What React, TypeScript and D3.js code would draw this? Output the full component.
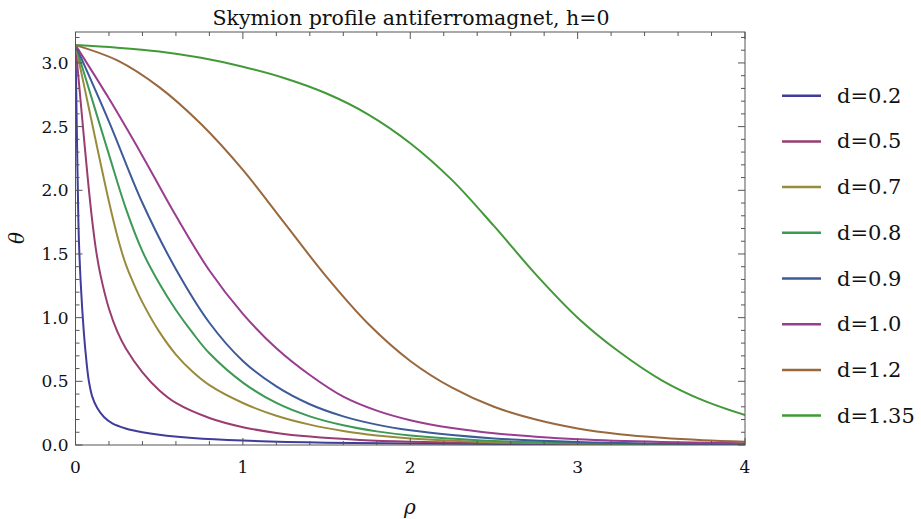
import React from "react";
import * as d3 from "d3";

const width = 921;
const height = 519;
const margin = { top: 32, right: 176, bottom: 74, left: 75.5 };
const innerWidth = width - margin.left - margin.right;
const innerHeight = height - margin.top - margin.bottom;

// values: rho (x) and theta (y) for every d
const rho02 = [0, 0.005, 0.01, 0.015, 0.02, 0.03, 0.04, 0.05, 0.06, 0.07, 0.08, 0.1, 0.13, 0.17, 0.22, 0.3, 0.4, 0.5, 0.7, 1.0, 1.5, 2.0, 3.0, 4.0];
const theta02 = [3.14, 2.72, 2.3, 1.92, 1.62, 1.3, 1.07, 0.88, 0.73, 0.6, 0.5, 0.38, 0.29, 0.22, 0.17, 0.13, 0.1, 0.08, 0.055, 0.035, 0.018, 0.011, 0.006, 0.003];

const rho05 = [0, 0.025, 0.05, 0.075, 0.1, 0.125, 0.15, 0.2, 0.25, 0.3, 0.4, 0.5, 0.6, 0.8, 1.0, 1.2, 1.4, 1.7, 2.0, 2.5, 3.0, 4.0];
const theta05 = [3.14, 2.78, 2.42, 2.07, 1.76, 1.51, 1.33, 1.07, 0.89, 0.76, 0.57, 0.43, 0.33, 0.212, 0.14, 0.095, 0.066, 0.04, 0.026, 0.015, 0.01, 0.005];

const rho07 = [0, 0.05, 0.1, 0.15, 0.2, 0.25, 0.3, 0.35, 0.4, 0.5, 0.6, 0.7, 0.8, 1.0, 1.2, 1.4, 1.6, 1.8, 2.0, 2.5, 3.0, 3.5, 4.0];
const theta07 = [3.14, 2.83, 2.52, 2.21, 1.91, 1.64, 1.42, 1.26, 1.12, 0.89, 0.71, 0.575, 0.47, 0.33, 0.23, 0.16, 0.11, 0.075, 0.052, 0.022, 0.01, 0.006, 0.004];

const rho08 = [0, 0.1, 0.2, 0.3, 0.4, 0.5, 0.6, 0.7, 0.8, 1.0, 1.2, 1.4, 1.6, 1.8, 2.0, 2.5, 3.0, 3.5, 4.0];
const theta08 = [3.14, 2.71, 2.28, 1.86, 1.52, 1.27, 1.06, 0.88, 0.72, 0.49, 0.33, 0.225, 0.155, 0.107, 0.075, 0.032, 0.014, 0.007, 0.004];

const rho09 = [0, 0.2, 0.4, 0.6, 0.8, 1.0, 1.2, 1.4, 1.6, 1.8, 2.0, 2.25, 2.5, 3.0, 3.5, 4.0];
const theta09 = [3.14, 2.54, 1.9, 1.38, 0.96, 0.66, 0.46, 0.32, 0.225, 0.16, 0.115, 0.078, 0.052, 0.024, 0.011, 0.005];

const rho10 = [0, 0.2, 0.4, 0.6, 0.8, 1.0, 1.2, 1.4, 1.6, 1.8, 2.0, 2.25, 2.5, 2.75, 3.0, 3.5, 4.0];
const theta10 = [3.14, 2.72, 2.27, 1.8, 1.37, 1.03, 0.76, 0.55, 0.38, 0.27, 0.195, 0.133, 0.092, 0.065, 0.045, 0.024, 0.014];

const rho12 = [0, 0.25, 0.5, 0.75, 1.0, 1.25, 1.5, 1.75, 2.0, 2.25, 2.5, 2.75, 3.0, 3.25, 3.5, 3.75, 4.0];
const theta12 = [3.14, 3.02, 2.81, 2.52, 2.16, 1.74, 1.32, 0.95, 0.66, 0.45, 0.3, 0.2, 0.13, 0.085, 0.057, 0.038, 0.026];

const rho135 = [0, 0.25, 0.5, 0.75, 1.0, 1.25, 1.5, 1.75, 2.0, 2.25, 2.5, 2.75, 3.0, 3.25, 3.5, 3.75, 4.0];
const theta135 = [3.14, 3.12, 3.09, 3.04, 2.97, 2.88, 2.76, 2.595, 2.37, 2.08, 1.72, 1.34, 1.0, 0.73, 0.51, 0.35, 0.235];

const labels = ["d=0.2", "d=0.5", "d=0.7", "d=0.8", "d=0.9", "d=1.0", "d=1.2", "d=1.35"];
const colors = [
  "rgb(63,61,153)",
  "rgb(153,61,113)",
  "rgb(153,139,61)",
  "rgb(61,153,86)",
  "rgb(61,90,153)",
  "rgb(153,61,144)",
  "rgb(153,104,61)",
  "rgb(66,153,56)",
];
const rhos = [rho02, rho05, rho07, rho08, rho09, rho10, rho12, rho135];
const thetas = [theta02, theta05, theta07, theta08, theta09, theta10, theta12, theta135];

const xTicks = [0, 1, 2, 3, 4];
const yTicks = [0, 0.5, 1, 1.5, 2, 2.5, 3];

const serif = "'DejaVu Serif', serif";
const frameColor = "#555";

const App = () => {
  const x = d3.scaleLinear().domain([0, 4]).range([0, innerWidth]);
  const y = d3.scaleLinear().domain([0, 3.243]).range([innerHeight, 0]);

  const line = d3
    .line<[number, number]>()
    .x((d) => x(d[0]))
    .y((d) => y(d[1]))
    .curve(d3.curveCatmullRom.alpha(0.5));

  const xMinor = d3.range(0, 4.001, 0.2);
  const yMinor = d3.range(0, 3.2501, 0.1);

  return (
    <svg
      width={width}
      height={height}
      style={{ position: "absolute", left: 0, top: 0, background: "#fff" }}
      fontFamily={serif}
    >
      <text x={411} y={25} textAnchor="middle" fontSize={20.5} fill="#111">
        Skymion profile antiferromagnet, h=0
      </text>
      <g transform={`translate(${margin.left},${margin.top})`}>
        <defs>
          <clipPath id="plotclip">
            <rect x={0} y={0} width={innerWidth} height={innerHeight} />
          </clipPath>
        </defs>
        <g clipPath="url(#plotclip)">
          {rhos.map((r, i) => (
            <path
              key={labels[i]}
              d={line(r.map((v, j) => [v, thetas[i][j]] as [number, number])) || ""}
              fill="none"
              stroke={colors[i]}
              strokeWidth={2}
            />
          ))}
        </g>
        <rect x={0} y={0} width={innerWidth} height={innerHeight} fill="none" stroke={frameColor} strokeWidth={1} />
        {xMinor.map((t) => {
          const major = Math.abs(t - Math.round(t)) < 1e-6;
          const len = major ? 7 : 4;
          return (
            <g key={"xt" + t} stroke={frameColor}>
              <line x1={x(t)} x2={x(t)} y1={innerHeight} y2={innerHeight - len} />
              <line x1={x(t)} x2={x(t)} y1={0} y2={len} />
            </g>
          );
        })}
        {yMinor.filter((t) => t <= 3.243).map((t) => {
          const major = Math.abs(t * 2 - Math.round(t * 2)) < 1e-6;
          const len = major ? 7 : 4;
          return (
            <g key={"yt" + t.toFixed(1)} stroke={frameColor}>
              <line x1={0} x2={len} y1={y(t)} y2={y(t)} />
              <line x1={innerWidth} x2={innerWidth - len} y1={y(t)} y2={y(t)} />
            </g>
          );
        })}
        {xTicks.map((t) => (
          <text key={"xl" + t} x={x(t)} y={innerHeight + 28} textAnchor="middle" fontSize={17} fill="#111">
            {t}
          </text>
        ))}
        {yTicks.map((t) => (
          <text
            key={"yl" + t}
            x={-7}
            y={y(t)}
            textAnchor="end"
            dominantBaseline="central"
            fontSize={17}
            fill="#111"
          >
            {t.toFixed(1)}
          </text>
        ))}
      </g>
      <text x={410} y={507} textAnchor="middle" dominantBaseline="central" fontSize={20} fontStyle="italic" fill="#111">
        ρ
      </text>
      <text
        transform="translate(17,238) rotate(-90)"
        textAnchor="middle"
        dominantBaseline="central"
        fontSize={20}
        fontStyle="italic"
        fill="#111"
      >
        θ
      </text>
      {labels.map((lab, i) => {
        const ly = 95.7 + i * 45.7;
        return (
          <g key={"lg" + lab}>
            <line x1={782} x2={821} y1={ly} y2={ly} stroke={colors[i]} strokeWidth={2.5} />
            <text x={837} y={ly} dominantBaseline="central" fontSize={21} fill="#111">
              {lab}
            </text>
          </g>
        );
      })}
    </svg>
  );
};

export default App;
